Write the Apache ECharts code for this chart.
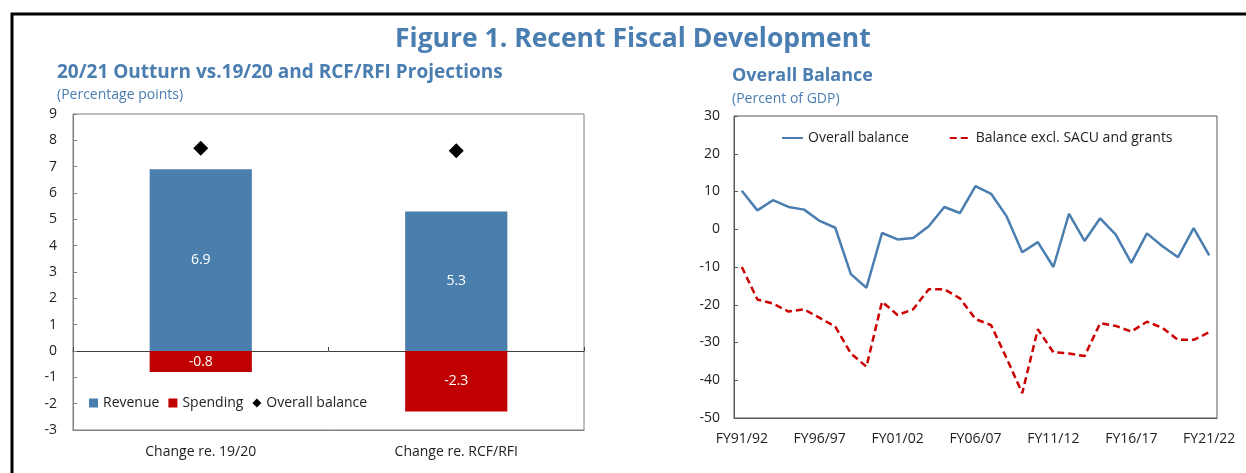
<!DOCTYPE html>
<html>
<head>
<meta charset="utf-8">
<script src="https://cdn.jsdelivr.net/npm/echarts@6/dist/echarts.min.js"></script>
<style>
  html, body { margin: 0; padding: 0; background: #fff; }
  #fig { width: 1246px; height: 473px; }
</style>
</head>
<body>
<div id="fig"></div>
<script>
// left panel: change in 20/21 outturn
const barCats = ['Change re. 19/20', 'Change re. RCF/RFI']
const revenue = [6.9, 5.3]
const spending = [-0.8, -2.3]
const overall = [7.7, 7.6]

// right panel: overall balance, percent of GDP
const years = [
    'FY91/92', 'FY92/93', 'FY93/94', 'FY94/95', 'FY95/96', 'FY96/97', 'FY97/98', 'FY98/99',
    'FY99/00', 'FY00/01', 'FY01/02', 'FY02/03', 'FY03/04', 'FY04/05', 'FY05/06', 'FY06/07',
    'FY07/08', 'FY08/09', 'FY09/10', 'FY10/11', 'FY11/12', 'FY12/13', 'FY13/14', 'FY14/15',
    'FY15/16', 'FY16/17', 'FY17/18', 'FY18/19', 'FY19/20', 'FY20/21', 'FY21/22',
]
const overallBalance = [
    10.2, 5.0, 7.7, 5.9, 5.2, 2.2, 0.4, -11.9, -15.5, -1.0, -2.7, -2.3, 0.8, 5.9, 4.3, 11.4,
    9.4, 3.4, -6.1, -3.4, -10.0, 4.1, -3.1, 2.9, -1.4, -8.9, -1.1, -4.5, -7.4, 0.3, -6.9,
]
const exclSacu = [
    -10.0, -18.6, -19.7, -21.8, -21.2, -23.5, -25.8, -32.9, -36.4, -19.2, -22.7, -21.2, -15.9, -15.9, -18.3, -23.8,
    -25.4, -34.2, -43.4, -26.5, -32.6, -32.9, -33.6, -24.9, -25.6, -27.1, -24.5, -26.1, -29.3, -29.3, -27.3,
]

const FONT = '"Open Sans", "Noto Sans", sans-serif'
const BLUE_T = '#4a7db0'
const txt = { fontFamily: FONT, fontSize: 14, color: '#222' }

const option = {
    animation: false,
    textStyle: { fontFamily: FONT },
    graphic: [
        {
            type: 'rect',
            shape: { x: 12, y: 14, width: 1300, height: 600 },
            style: { fill: 'none', stroke: '#000', lineWidth: 3 },
        },
    ],
    title: [
        {
            text: 'Figure 1. Recent Fiscal Development',
            left: 395, top: 26, padding: 0,
            textStyle: { fontFamily: FONT, fontSize: 26.5, fontWeight: 'bold', color: BLUE_T },
        },
        {
            text: '20/21 Outturn vs.19/20 and RCF/RFI Projections',
            left: 57, top: 63, padding: 0,
            textStyle: { fontFamily: FONT, fontSize: 19, fontWeight: 'bold', color: BLUE_T },
        },
        {
            text: '(Percentage points)',
            left: 57, top: 88, padding: 0,
            textStyle: { fontFamily: FONT, fontSize: 14, fontWeight: 'normal', color: BLUE_T },
        },
        {
            text: 'Overall Balance',
            left: 732, top: 67, padding: 0,
            textStyle: { fontFamily: FONT, fontSize: 18, fontWeight: 'bold', color: BLUE_T },
        },
        {
            text: '(Percent of GDP)',
            left: 732, top: 92, padding: 0,
            textStyle: { fontFamily: FONT, fontSize: 14, fontWeight: 'normal', color: BLUE_T },
        },
    ],
    legend: [
        {
            left: 89, top: 396, padding: 0,
            itemWidth: 9, itemHeight: 9, itemGap: 9,
            textStyle: txt,
            data: [
                { name: 'Revenue', icon: 'rect' },
                { name: 'Spending', icon: 'rect' },
                { name: 'Overall balance', icon: 'diamond' },
            ],
        },
        {
            left: 781, top: 131, padding: 0,
            itemWidth: 21, itemHeight: 10, itemGap: 40,
            textStyle: txt,
            itemStyle: { opacity: 0 },
            data: ['Overall balance (line)', 'Balance excl. SACU and grants'],
            formatter: (name) => name.replace(' (line)', ''),
        },
    ],
    grid: [
        {
            left: 73, right: 662, top: 114, bottom: 43,
            outerBoundsMode: 'none', containLabel: false,
            show: true, borderColor: '#7f7f7f', borderWidth: 1,
        },
        {
            left: 734, right: 29, top: 116, bottom: 55,
            outerBoundsMode: 'none', containLabel: false,
            show: true, borderColor: '#595959', borderWidth: 1,
        },
    ],
    xAxis: [
        {
            // category labels along the bottom of the frame
            gridIndex: 0,
            type: 'category',
            position: 'bottom',
            data: barCats,
            axisLine: { onZero: false, lineStyle: { color: '#7f7f7f' } },
            axisTick: { show: false },
            axisLabel: { ...txt, margin: 15 },
        },
        {
            // zero line with the small divider tick
            gridIndex: 0,
            type: 'category',
            position: 'top',
            data: barCats,
            axisLine: { onZero: true, lineStyle: { color: '#404040', width: 1 } },
            axisTick: { show: true, inside: false, length: 4, lineStyle: { color: '#404040' } },
            axisLabel: { show: false },
        },
        {
            gridIndex: 1,
            type: 'category',
            data: years,
            boundaryGap: true,
            axisLine: { onZero: false, lineStyle: { color: '#595959' } },
            axisTick: { inside: true, length: 4, interval: 0, lineStyle: { color: '#595959' } },
            axisLabel: { ...txt, interval: 4, margin: 14 },
        },
    ],
    yAxis: [
        {
            gridIndex: 0,
            type: 'value',
            min: -3, max: 9, interval: 1,
            splitLine: { show: false },
            axisLine: { show: true, onZero: false, lineStyle: { color: '#7f7f7f' } },
            axisTick: { show: true, inside: true, length: 4, lineStyle: { color: '#7f7f7f' } },
            axisLabel: { ...txt, margin: 16 },
        },
        {
            gridIndex: 1,
            type: 'value',
            min: -50, max: 30, interval: 10,
            splitLine: { show: false },
            axisLine: { show: true, onZero: false, lineStyle: { color: '#595959' } },
            axisTick: { show: true, inside: true, length: 4, lineStyle: { color: '#595959' } },
            axisLabel: { ...txt, margin: 14 },
        },
    ],
    series: [
        {
            name: 'Revenue',
            type: 'bar',
            stack: 'chg',
            xAxisIndex: 0, yAxisIndex: 0,
            barWidth: '40%',
            itemStyle: { color: '#4a7eac' },
            label: { show: true, position: 'inside', color: '#fff', fontFamily: FONT, fontSize: 14 },
            data: revenue,
        },
        {
            name: 'Spending',
            type: 'bar',
            stack: 'chg',
            xAxisIndex: 0, yAxisIndex: 0,
            barWidth: '40%',
            itemStyle: { color: '#c00000' },
            label: { show: true, position: 'inside', color: '#fff', fontFamily: FONT, fontSize: 14 },
            data: spending,
        },
        {
            name: 'Overall balance',
            type: 'scatter',
            xAxisIndex: 0, yAxisIndex: 0,
            symbol: 'diamond',
            symbolSize: 15,
            itemStyle: { color: '#000', opacity: 1 },
            data: overall,
        },
        {
            name: 'Overall balance (line)',
            type: 'line',
            xAxisIndex: 2, yAxisIndex: 1,
            symbol: 'none',
            lineStyle: { color: '#4a7eb0', width: 2.5 },
            itemStyle: { color: '#4a7eb0' },
            data: overallBalance,
        },
        {
            name: 'Balance excl. SACU and grants',
            type: 'line',
            xAxisIndex: 2, yAxisIndex: 1,
            symbol: 'none',
            lineStyle: { color: '#cc0000', width: 2.5, type: [7, 4] },
            itemStyle: { color: '#cc0000' },
            data: exclSacu,
        },
    ],
}

const chart = echarts.init(document.getElementById('fig'))
chart.setOption(option)
window.addEventListener('resize', chart.resize)
</script>
</body>
</html>
